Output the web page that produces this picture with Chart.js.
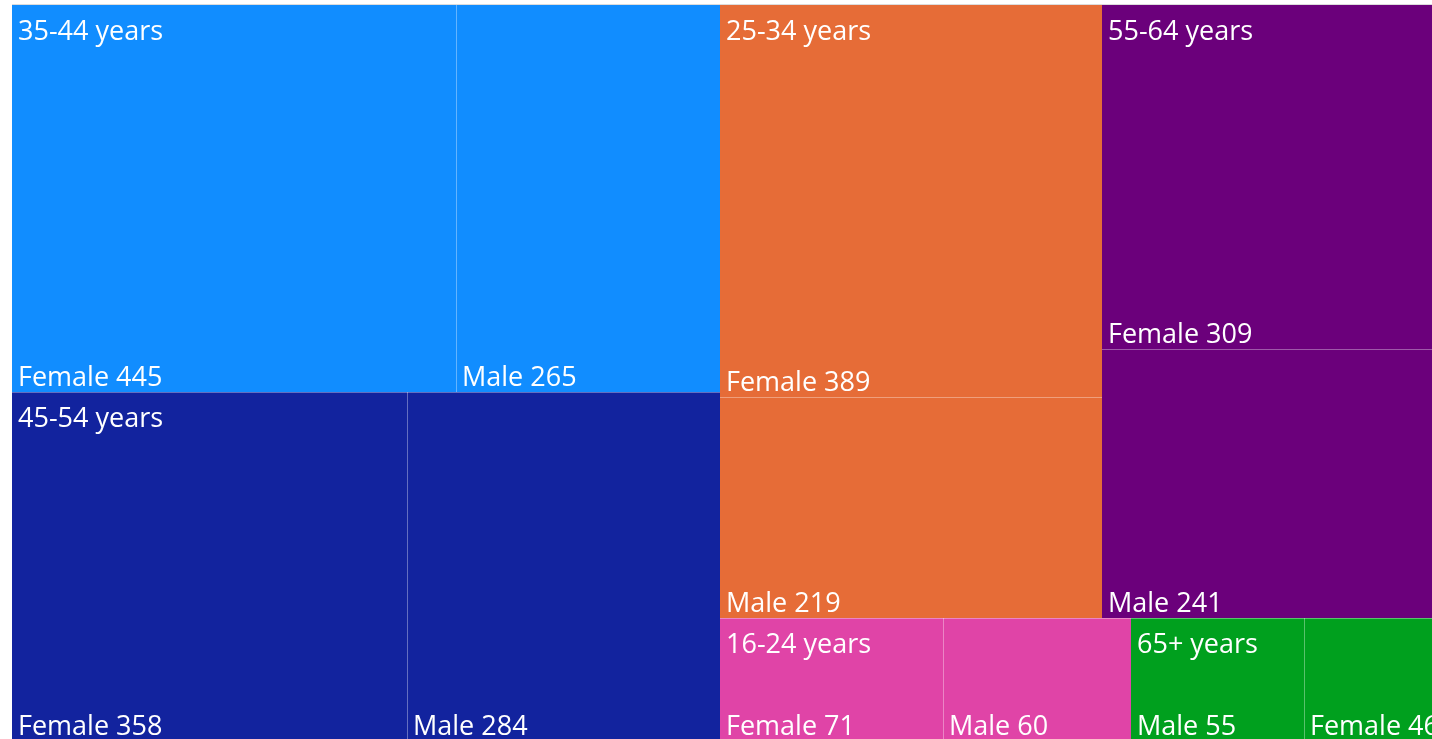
<!DOCTYPE html>
<html>
<head>
<meta charset="utf-8">
<script src="https://cdn.jsdelivr.net/npm/chart.js@4.4.1/dist/chart.umd.min.js"></script>
<style>
  html, body { margin: 0; padding: 0; background: #fff; overflow: hidden; }
  #wrap { position: absolute; left: 12px; top: 4px; border-top: 1px solid #dcdcdc; }
  canvas { display: block; }
</style>
</head>
<body>
<div id="wrap"><canvas id="treemapChart" width="1436" height="736"></canvas></div>
<script>
// age groups and the two gender values in each
const ageGroups = ['35-44 years', '45-54 years', '25-34 years', '55-64 years', '16-24 years', '65+ years'];
const femaleValues = [445, 358, 389, 309, 71, 46];
const maleValues = [265, 284, 219, 241, 60, 55];
const groupColors = ['#118DFF', '#12239E', '#E66C37', '#6B007B', '#E044A7', '#00A01E'];

// build the two level tree, biggest first
const groups = ageGroups.map((name, i) => {
  const children = [
    { label: 'Female', value: femaleValues[i] },
    { label: 'Male', value: maleValues[i] }
  ].sort((a, b) => b.value - a.value);
  return { name, color: groupColors[i], children, value: femaleValues[i] + maleValues[i] };
}).sort((a, b) => b.value - a.value);

// squarified layout (golden ratio variant) in value space 0..1,
// kx / ky are the pixel lengths of one unit so aspect ratios are right
function squarify(nodes, x0, y0, x1, y1, kx, ky) {
  const ratio = (1 + Math.sqrt(5)) / 2;
  let value = nodes.reduce((s, n) => s + n.value, 0);
  let i0 = 0, i1 = 0;
  const n = nodes.length;
  while (i0 < n) {
    const dx = (x1 - x0) * kx, dy = (y1 - y0) * ky;
    let sum = nodes[i1++].value;
    let minV = sum, maxV = sum;
    const alpha = Math.max(dy / dx, dx / dy) / (value * ratio);
    let beta = sum * sum * alpha;
    let minRatio = Math.max(maxV / beta, beta / minV);
    for (; i1 < n; ++i1) {
      const v = nodes[i1].value;
      sum += v;
      if (v < minV) minV = v;
      if (v > maxV) maxV = v;
      beta = sum * sum * alpha;
      const r = Math.max(maxV / beta, beta / minV);
      if (r > minRatio) { sum -= v; break; }
      minRatio = r;
    }
    const row = nodes.slice(i0, i1);
    if (dx < dy) {
      const yEnd = value ? y0 + (y1 - y0) * sum / value : y1;
      let x = x0;
      row.forEach(nd => {
        const w = (x1 - x0) * nd.value / sum;
        nd.x0 = x; nd.x1 = x + w; nd.y0 = y0; nd.y1 = yEnd;
        x += w;
      });
      y0 = yEnd;
    } else {
      const xEnd = value ? x0 + (x1 - x0) * sum / value : x1;
      let y = y0;
      row.forEach(nd => {
        const h = (y1 - y0) * nd.value / sum;
        nd.x0 = x0; nd.x1 = xEnd; nd.y0 = y; nd.y1 = y + h;
        y += h;
      });
      x0 = xEnd;
    }
    value -= sum;
    i0 = i1;
  }
}

const treemapPlugin = {
  id: 'treemapCells',
  afterDraw(chart) {
    const ctx = chart.ctx;
    const xs = chart.scales.x, ys = chart.scales.y;
    const area = chart.chartArea;
    const kx = area.right - area.left, ky = area.bottom - area.top;

    squarify(groups, 0, 0, 1, 1, kx, ky);
    groups.forEach(g => squarify(g.children, g.x0, g.y0, g.x1, g.y1, kx, ky));

    const px = v => Math.round(xs.getPixelForValue(v));
    const py = v => Math.round(ys.getPixelForValue(v));

    ctx.save();
    // cells
    groups.forEach(g => {
      g.children.forEach(c => {
        ctx.fillStyle = g.color;
        ctx.fillRect(px(c.x0), py(c.y0), px(c.x1) - px(c.x0), py(c.y1) - py(c.y0));
      });
    });
    // thin light borders
    ctx.strokeStyle = 'rgba(255,255,255,0.35)';
    ctx.lineWidth = 1;
    groups.forEach(g => {
      g.children.forEach(c => {
        ctx.beginPath();
        if (c.y0 > 0.0001) {
          ctx.moveTo(px(c.x0), py(c.y0) + 0.5);
          ctx.lineTo(px(c.x1), py(c.y0) + 0.5);
        }
        if (c.x0 > g.x0 + 0.0001) {
          ctx.moveTo(px(c.x0) + 0.5, py(c.y0));
          ctx.lineTo(px(c.x0) + 0.5, py(c.y1));
        }
        ctx.stroke();
      });
    });
    // labels
    ctx.fillStyle = '#ffffff';
    ctx.font = '27px "Segoe UI", "Open Sans", sans-serif';
    ctx.textAlign = 'left';
    ctx.textBaseline = 'alphabetic';
    groups.forEach(g => {
      ctx.fillText(g.name, px(g.x0) + 6, py(g.y0) + 35);
      g.children.forEach(c => {
        ctx.fillText(c.label + ' ' + c.value, px(c.x0) + 6, py(c.y1) - 6);
      });
    });
    ctx.restore();
  }
};

const treemapChart = new Chart(document.getElementById('treemapChart'), {
  type: 'scatter',
  data: { datasets: [{ data: [] }] },
  options: {
    responsive: false,
    animation: false,
    layout: { padding: 0 },
    plugins: { legend: { display: false }, tooltip: { enabled: false } },
    scales: {
      x: { type: 'linear', min: 0, max: 1, display: false },
      y: { type: 'linear', min: 0, max: 1, reverse: true, display: false }
    }
  },
  plugins: [treemapPlugin]
});
</script>
</body>
</html>
